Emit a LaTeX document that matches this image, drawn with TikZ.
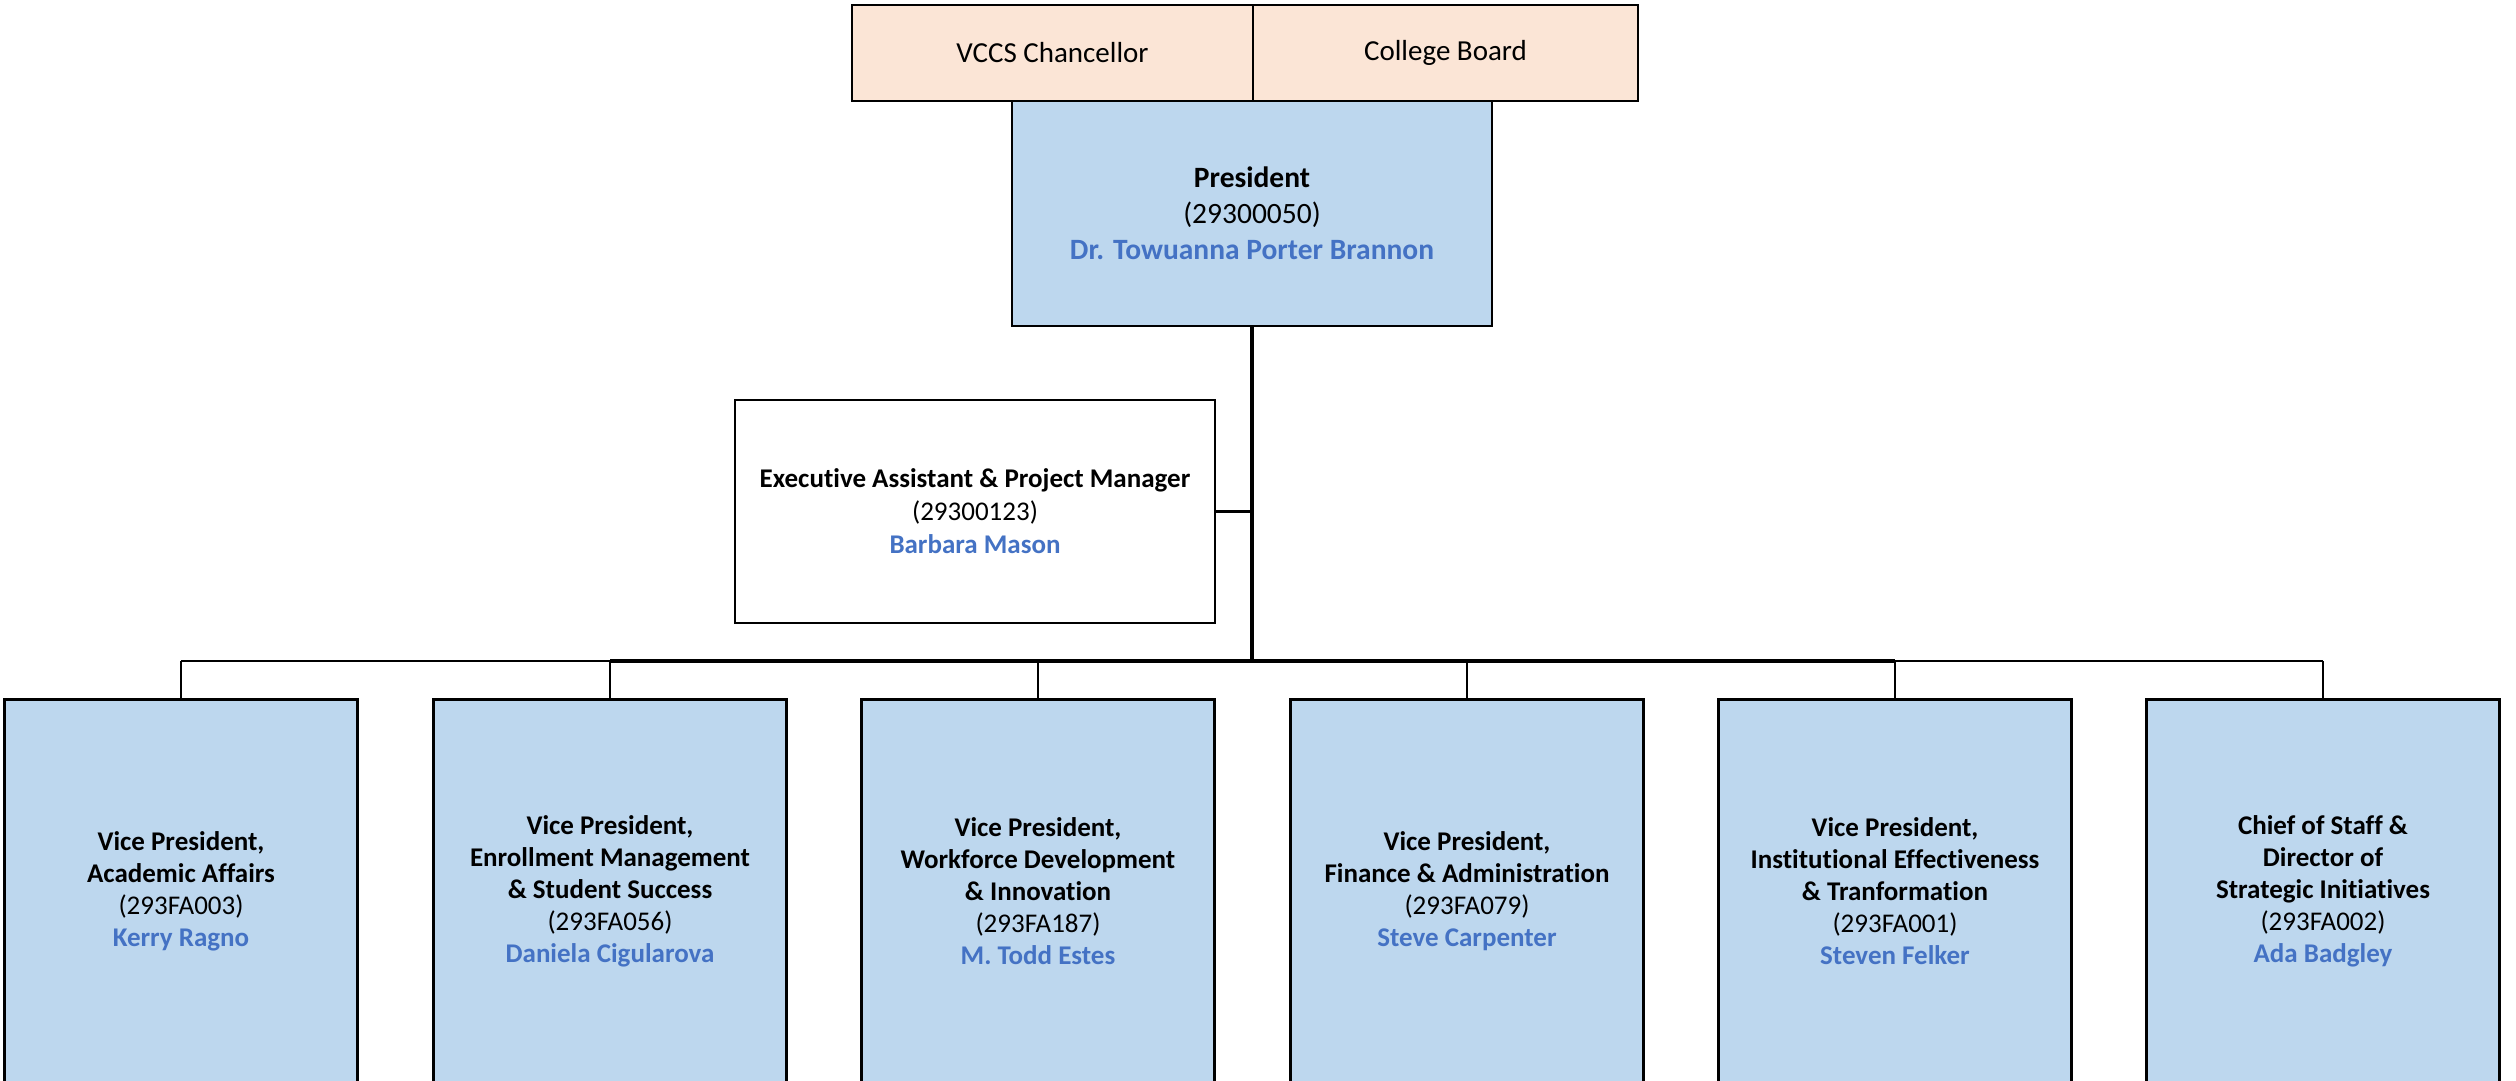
\documentclass[tikz,border=0pt]{standalone}
\usepackage{fontspec}
\setmainfont{Carlito}[Ligatures=NoCommon]
\definecolor{boxblue}{HTML}{BDD7EE}
\definecolor{boxpeach}{HTML}{FBE5D6}
\definecolor{nameblue}{HTML}{4472C4}
\begin{document}
\begin{tikzpicture}[x=1pt,y=-1pt,
  basebox/.style={draw=black,line width=2.5pt,rectangle,inner sep=0pt,align=center,text=black},
  topbox/.style={basebox,fill=boxpeach,minimum height=96pt,font=\fontsize{29}{34}\selectfont},
  presbox/.style={basebox,fill=boxblue,minimum width=480pt,minimum height=225pt,font=\fontsize{29.5}{36}\selectfont},
  execbox/.style={basebox,fill=white,minimum width=480pt,minimum height=223pt,font=\fontsize{27}{33}\selectfont},
  vpbox/.style={basebox,fill=boxblue,minimum width=353pt,minimum height=384pt,anchor=north,font=\fontsize{27}{32}\selectfont},
  thinline/.style={draw=black,line width=2.5pt},
  thickline/.style={draw=black,line width=4.5pt}
]
\useasboundingbox (0,0) rectangle (2516,1080);
\newcommand{\nm}[1]{\textcolor{nameblue}{\textbf{#1}}}

\node[topbox,minimum width=401pt] (vccs) at (1052.5,53) {VCCS Chancellor};
\node[topbox,minimum width=385pt] (board) at (1445.5,53) {College Board};
\node[presbox] (pres) at (1252,213.5) {\textbf{President}\\(29300050)\\\nm{Dr. Towuanna Porter Brannon}};
\node[execbox] (exec) at (975,511.5) {\textbf{Executive Assistant \& Project Manager}\\(29300123)\\\nm{Barbara Mason}};

\node[vpbox] (vp1) at (181,698) {\textbf{Vice President,}\\\textbf{Academic Affairs}\\(293FA003)\\\nm{Kerry Ragno}};
\node[vpbox] (vp2) at (610,698) {\textbf{Vice President,}\\\textbf{Enrollment Management}\\\textbf{\& Student Success}\\(293FA056)\\\nm{Daniela Cigularova}};
\node[vpbox] (vp3) at (1038,698) {\textbf{Vice President,}\\\textbf{Workforce Development}\\\textbf{\& Innovation}\\(293FA187)\\\nm{M. Todd Estes}};
\node[vpbox] (vp4) at (1467,698) {\textbf{Vice President,}\\\textbf{Finance \& Administration}\\(293FA079)\\\nm{Steve Carpenter}};
\node[vpbox] (vp5) at (1895,698) {\textbf{Vice President,}\\\textbf{Institutional Effectiveness}\\\textbf{\& Tranformation}\\(293FA001)\\\nm{Steven Felker}};
\node[vpbox] (vp6) at (2323,698) {\textbf{Chief of Staff \&}\\\textbf{Director of}\\\textbf{Strategic Initiatives}\\(293FA002)\\\nm{Ada Badgley}};

\coordinate (bus) at (1252,661);
\foreach \i/\x in {1/181,2/610,3/1038,4/1467,5/1895,6/2323}
  \coordinate (b\i) at (\x,661);

\draw[thickline] (pres.south) -- (bus);
\draw[thinline] (exec.east) -- (exec.east -| bus);
\draw[thinline] (b1) -- (b2);
\draw[thickline] (b2) -- (b5);
\draw[thinline] (b5) -- (b6);
\foreach \i in {1,...,6}
  \draw[thinline] (b\i) -- (vp\i.north);
\end{tikzpicture}
\end{document}
